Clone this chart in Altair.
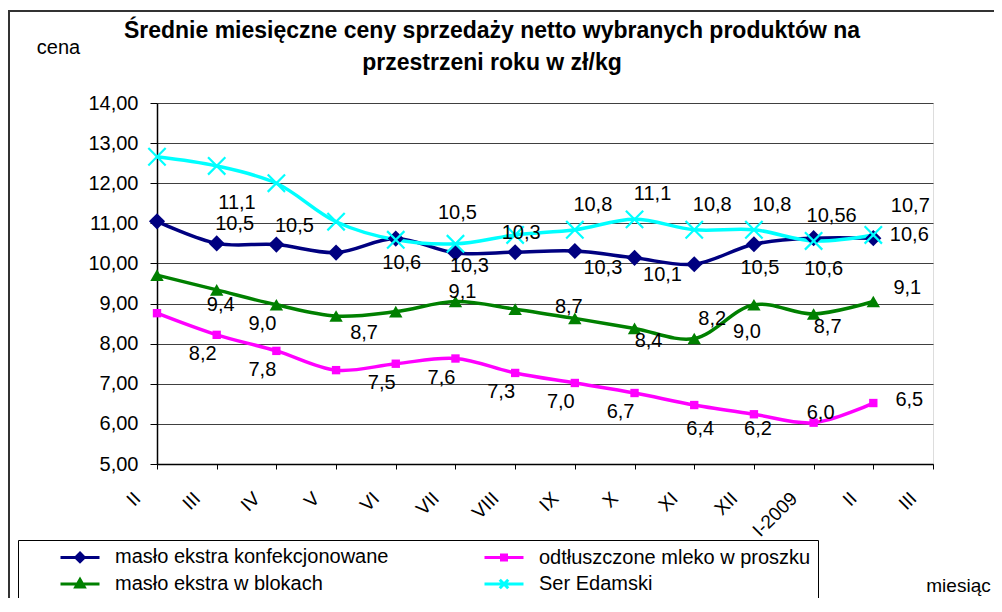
import json
import altair as alt
import pandas as pd

FONT = "Liberation Sans"

months = ["II", "III", "IV", "V", "VI", "VII", "VIII", "IX", "X", "XI", "XII", "I-2009", "II", "III"]
series_names = ["masło ekstra konfekcjonowane", "odtłuszczone mleko w proszku",
                "masło ekstra w blokach", "Ser Edamski"]
series_colors = ["#000080", "#FF00FF", "#008000", "#00FFFF"]

navy_vals = [11.05, 10.50, 10.47, 10.27, 10.62, 10.26, 10.28, 10.31, 10.14, 9.98, 10.48, 10.63, 10.63]
magenta_vals = [8.76, 8.22, 7.82, 7.34, 7.50, 7.63, 7.27, 7.02, 6.77, 6.47, 6.24, 6.03, 6.52]
green_vals = [9.71, 9.34, 8.97, 8.69, 8.80, 9.05, 8.86, 8.63, 8.38, 8.13, 8.97, 8.74, 9.05]
cyan_vals = [12.66, 12.43, 12.00, 11.04, 10.59, 10.49, 10.71, 10.84, 11.10, 10.84, 10.84, 10.56, 10.71]

navy_labels = ["11,1", "10,5", "10,5", "", "10,6", "10,3", "10,3", "10,3", "10,1", "", "10,5", "10,6", "10,6"]
magenta_labels = ["", "8,2", "7,8", "", "7,5", "7,6", "7,3", "7,0", "6,7", "6,4", "6,2", "6,0", "6,5"]
green_labels = ["", "9,4", "9,0", "8,7", "", "9,1", "", "8,7", "8,4", "8,2", "9,0", "8,7", "9,1"]
cyan_labels = ["", "", "", "", "", "10,5", "", "10,8", "11,1", "10,8", "10,8", "10,56", "10,7"]

# label placement codes (like Excel's label position option)
navy_pos = ["FAR", "AR1", "AR1", "", "B", "BR1", "A", "BR", "BR", "", "B", "B2", "R"]
magenta_pos = ["", "BL", "BL", "", "BL", "BL", "BL", "BL", "BL", "B", "B1", "A1", "R"]
green_pos = ["", "B1", "BL", "BR", "", "A1", "", "AL", "BR1", "AR1", "BL2", "BR1", "RA"]
cyan_pos = ["", "", "", "", "", "A2", "", "AR", "AR", "AR", "AR", "AR", "RA2"]

rows = []
for name, vals, lbls, poss in zip(series_names,
                                  [navy_vals, magenta_vals, green_vals, cyan_vals],
                                  [navy_labels, magenta_labels, green_labels, cyan_labels],
                                  [navy_pos, magenta_pos, green_pos, cyan_pos]):
    for i, v in enumerate(vals):
        rows.append({"series": name, "idx": i, "value": v, "label": lbls[i], "pos": poss[i]})
df = pd.DataFrame(rows)

label_offsets = {
    "A": (6, -19), "A1": (7, -10), "A2": (2, -31), "AL": (-6, -11),
    "AR": (18, -25), "AR1": (18, -19),
    "B": (6, 24), "B1": (4, 15), "B2": (10, 31), "BL": (-14, 19), "BL2": (-7, 27),
    "BR": (28, 17), "BR1": (14, 13),
    "R": (36, -3), "RA": (34, -14), "RA2": (37, -29), "FAR": (80, -18),
}

month_expr = json.dumps(months, ensure_ascii=False) + "[datum.value]"

x_enc = alt.X(
    "idx:Q",
    scale=alt.Scale(domain=[0, len(months) - 1], nice=False, zero=False),
    axis=alt.Axis(
        values=list(range(len(months))), labelExpr=month_expr, grid=False,
        labelAngle=-45, labelAlign="right", labelBaseline="middle",
        labelPadding=26, labelOffset=-20, labelFontSize=19, labelFont=FONT, labelColor="black",
        tickSize=5, tickColor="black", domainColor="black", domainWidth=1.5,
        title="miesiąc", titleX=801, titleY=121, titleAlign="center", titleBaseline="middle",
        titleFontSize=19, titleFontWeight="normal", titleFont=FONT, titleColor="black",
    ),
)
y_enc = alt.Y(
    "value:Q",
    scale=alt.Scale(domain=[5, 14], nice=False, zero=False),
    axis=alt.Axis(
        values=list(range(5, 15)),
        labelExpr="replace(format(datum.value, '.2f'), '.', ',')",
        grid=True, gridColor="#404040", gridWidth=1,
        labelFontSize=20, labelFont=FONT, labelColor="black", labelPadding=12,
        tickSize=7, tickColor="black", domainColor="black", domainWidth=1.5,
        title="cena", titleAngle=0, titleX=-99, titleY=-56, titleAlign="center",
        titleBaseline="middle", titleFontSize=20, titleFontWeight="normal",
        titleFont=FONT, titleColor="black",
    ),
)

frame = alt.Chart(pd.DataFrame({"f": [0]})).mark_rect(
    filled=False, color="#333333", strokeWidth=2
).encode(x=alt.value(-148), x2=alt.value(900), y=alt.value(-92), y2=alt.value(520))

lines = []
for name, col in zip(series_names, series_colors):
    lines.append(
        alt.Chart(df).transform_filter(alt.datum.series == name)
        .mark_line(interpolate="catmull-rom", strokeWidth=3.5, color=col)
        .encode(x=x_enc, y=y_enc)
    )

marker_specs = [
    dict(shape="diamond", filled=True, size=260),
    dict(shape="square", filled=True, size=70),
    dict(shape="triangle-up", filled=True, size=180),
    dict(shape="M-1,-1L1,1M-1,1L1,-1", filled=False, size=300, strokeWidth=2.2),
]
points = []
for name, col, spec in zip(series_names, series_colors, marker_specs):
    points.append(
        alt.Chart(df).transform_filter(alt.datum.series == name)
        .mark_point(color=col, opacity=1, **spec)
        .encode(x=x_enc, y=y_enc)
    )

labels = []
for code, (dx, dy) in label_offsets.items():
    labels.append(
        alt.Chart(df).transform_filter(alt.datum.pos == code)
        .mark_text(dx=dx, dy=dy, fontSize=20, font=FONT, color="black",
                   align="center", baseline="middle")
        .encode(x=x_enc, y=y_enc, text="label:N")
    )

# legend glyphs: a short line with the series marker in its middle
legend_paths = [
    "M-3.9,0L3.9,0M0,-0.85L0.85,0L0,0.85L-0.85,0Z",
    "M-3.9,0L3.9,0M-0.5,-0.5L0.5,-0.5L0.5,0.5L-0.5,0.5Z",
    "M-3.9,0L3.9,0M0,-0.9L0.85,0.6L-0.85,0.6Z",
    "M-3.9,0L3.9,0M-0.85,-0.85L0.85,0.85M-0.85,0.85L0.85,-0.85",
]
leg = alt.Legend(
    title=None, orient="none", legendX=-139, legendY=437, columns=2, direction="horizontal",
    columnPadding=60, rowPadding=5, padding=7,
    symbolSize=100, symbolStrokeWidth=3, symbolOffset=45, labelOffset=25,
    labelFontSize=20, labelFont=FONT, labelColor="black", labelLimit=600,
    strokeColor="black", fillColor="white",
)
# the legend is carried by a layer with no visible marks
legend_layer = alt.Chart(df).transform_filter("false").mark_point(
    filled=True, opacity=1, strokeWidth=3
).encode(
    x=x_enc, y=y_enc,
    color=alt.Color("series:N", scale=alt.Scale(domain=series_names, range=series_colors), legend=leg),
    shape=alt.Shape("series:N", scale=alt.Scale(domain=series_names, range=legend_paths), legend=leg),
    stroke=alt.Stroke("series:N", scale=alt.Scale(domain=series_names, range=series_colors), legend=leg),
)

chart = alt.layer(frame, *lines, *points, *labels, legend_layer).properties(
    width=776, height=361,
    autosize=alt.AutoSizeParams(type="none"),
    padding={"left": 149, "top": 95, "right": 61, "bottom": 134},
    title=alt.TitleParams(
        text=["Średnie miesięczne ceny sprzedaży netto wybranych produktów na",
              "przestrzeni roku w zł/kg"],
        fontSize=23, fontWeight="bold", font=FONT, color="black",
        anchor="middle", dx=-53, dy=85, offset=20, lineHeight=32,
    ),
).configure_view(fill="#FFFFCC", stroke="#808080", strokeWidth=2).configure(background="white")

chart.save("out.html", embed_options={"renderer": "svg", "actions": False})
